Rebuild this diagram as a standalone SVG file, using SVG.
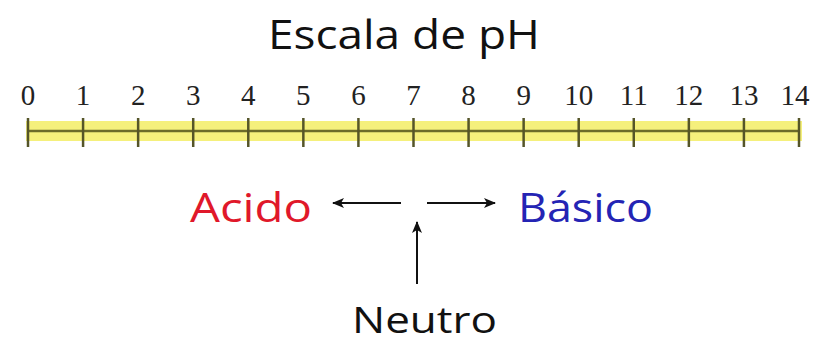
<svg xmlns="http://www.w3.org/2000/svg" width="814" height="344" viewBox="0 0 814 344">
<style>
.lbl{font-family:"Open Sans","DejaVu Sans",sans-serif;font-size:40px}
.num{font-family:"Liberation Serif","DejaVu Serif",serif;font-size:29px;fill:#222;text-anchor:middle}
.tick{stroke:#555528;stroke-width:2.5}
.arr{stroke:#111;stroke-width:2;fill:none;marker-end:url(#ah)}
</style>
<defs>
<marker id="ah" markerWidth="12" markerHeight="10" refX="11" refY="5" orient="auto" markerUnits="userSpaceOnUse">
<path d="M0,0 L12,5 L0,10 L3,5 Z" fill="#111"/>
</marker>
</defs>
<rect width="814" height="344" fill="#fff"/>
<g id="title"><text class="lbl" x="404" y="49" text-anchor="middle" fill="#111" textLength="272" lengthAdjust="spacingAndGlyphs">Escala de pH</text></g>
<g id="scale">
<rect x="26" y="121" width="776" height="20" fill="#f5f07c"/>
<line x1="28" y1="131" x2="799" y2="131" stroke="#6b6b2a" stroke-width="2.5"/>
<g class="tick">
<line x1="28" y1="118" x2="28" y2="147"/><line x1="83.07" y1="118" x2="83.07" y2="147"/><line x1="138.14" y1="118" x2="138.14" y2="147"/><line x1="193.21" y1="118" x2="193.21" y2="147"/><line x1="248.28" y1="118" x2="248.28" y2="147"/><line x1="303.35" y1="118" x2="303.35" y2="147"/><line x1="358.42" y1="118" x2="358.42" y2="147"/><line x1="413.5" y1="118" x2="413.5" y2="147"/><line x1="468.57" y1="118" x2="468.57" y2="147"/><line x1="523.64" y1="118" x2="523.64" y2="147"/><line x1="578.71" y1="118" x2="578.71" y2="147"/><line x1="633.78" y1="118" x2="633.78" y2="147"/><line x1="688.85" y1="118" x2="688.85" y2="147"/><line x1="743.92" y1="118" x2="743.92" y2="147"/><line x1="799" y1="118" x2="799" y2="147"/>
</g>
<g>
<text class="num" x="28" y="105">0</text><text class="num" x="83.07" y="105">1</text><text class="num" x="138.14" y="105">2</text><text class="num" x="193.21" y="105">3</text><text class="num" x="248.28" y="105">4</text><text class="num" x="303.35" y="105">5</text><text class="num" x="358.42" y="105">6</text><text class="num" x="413.5" y="105">7</text><text class="num" x="468.57" y="105">8</text><text class="num" x="523.64" y="105">9</text><text class="num" x="578.71" y="105">10</text><text class="num" x="633.78" y="105">11</text><text class="num" x="688.85" y="105">12</text><text class="num" x="743.92" y="105">13</text><text class="num" x="795" y="105">14</text>
</g>
</g>
<g id="acido"><text class="lbl" x="190" y="222" fill="#e0182a" textLength="122" lengthAdjust="spacingAndGlyphs">Acido</text></g>
<g id="basico"><text class="lbl" x="518" y="222" fill="#2424b4" textLength="135" lengthAdjust="spacingAndGlyphs">Básico</text></g>
<g id="neutro"><text class="lbl" x="352" y="333" fill="#111" style="font-size:37px" textLength="145" lengthAdjust="spacingAndGlyphs">Neutro</text></g>
<g id="connectors">
<line class="arr" x1="401" y1="203" x2="333" y2="203"/>
<line class="arr" x1="427" y1="203" x2="495" y2="203"/>
<line class="arr" x1="417" y1="284" x2="417" y2="222"/>
</g>
</svg>
